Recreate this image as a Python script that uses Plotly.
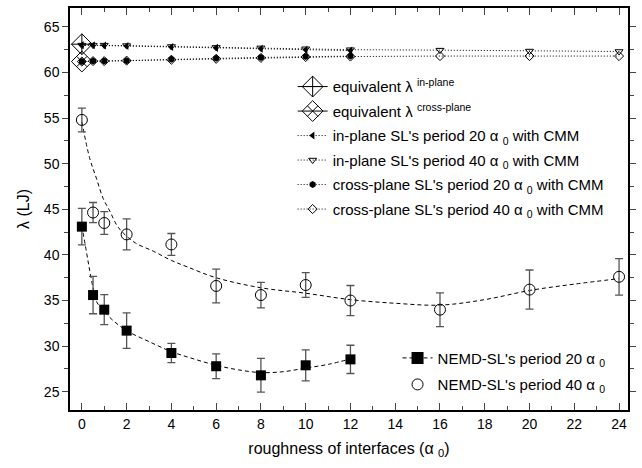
import plotly.graph_objects as go

# NEMD data
x20 = [0, 0.5, 1, 2, 4, 6, 8, 10, 12]
y20 = [43.1, 35.6, 34.0, 31.7, 29.25, 27.8, 26.8, 27.9, 28.55]
e20 = [2.0, 2.05, 1.65, 1.95, 1.05, 1.35, 1.85, 1.7, 1.55]

x40 = [0, 0.5, 1, 2, 4, 6, 8, 10, 12, 16, 20, 24]
y40 = [54.8, 44.65, 43.5, 42.25, 41.15, 36.6, 35.6, 36.7, 35.0, 34.0, 36.2, 37.6]
e40 = [1.3, 1.1, 1.25, 1.7, 1.2, 1.85, 1.4, 1.35, 1.65, 1.85, 2.15, 2.0]

# dashed fit curves
fit20_x = [0, 0.2, 0.35, 0.5, 0.65, 1, 1.4, 2, 3, 4, 5, 6, 7, 8, 9, 10, 11, 12]
fit20_y = [43.2, 40.4, 38.3, 36.4, 34.9, 33.8, 32.8, 31.7, 30.5, 29.4, 28.6, 27.9, 27.4, 27.1, 27.2, 27.6, 28.0, 28.6]
fit40_x = [0, 0.35, 0.65, 0.95, 1.25, 1.55, 1.85, 2.4, 3.2, 4, 4.7, 6, 8, 10, 12, 14, 16, 18, 20, 22, 24]
fit40_y = [54.6, 50.6, 48.4, 46.2, 44.8, 43.3, 42.4, 41.3, 40.4, 39.4, 38.7, 37.5, 36.4, 35.8, 35.1, 34.7, 34.5, 35.1, 36.1, 36.8, 37.4]

# CMM data
cmm20_x = [0, 0.5, 1, 2, 4, 6, 8, 10, 12]
cmm40_x = [0, 0.5, 1, 2, 4, 6, 8, 10, 12, 16, 20, 24]
in20 = [63.0, 62.98, 62.95, 62.9, 62.8, 62.7, 62.6, 62.5, 62.4]
in40 = [63.0, 63.0, 63.0, 62.95, 62.85, 62.75, 62.7, 62.6, 62.5, 62.45, 62.35, 62.3]
cr20 = [61.2, 61.25, 61.25, 61.3, 61.45, 61.55, 61.65, 61.75, 61.8]
cr40 = [61.2, 61.25, 61.25, 61.3, 61.4, 61.5, 61.6, 61.7, 61.75, 61.8, 61.8, 61.8]

eq_x = [0]
eq_in = [63.1]
eq_cross = [61.2]

FONT = "Liberation Sans, Arial, sans-serif"
DOT = "1px,2px"
DASH = "4px,3px"
fig = go.Figure()

fig.add_trace(go.Scatter(x=eq_x, y=eq_in, mode="lines+markers", name="equivalent λ <sup>in-plane</sup>",
    line=dict(color="black", width=1), legendgroup="a",
    marker=dict(symbol="diamond-cross-open", size=16, color="black", line=dict(width=1)), legend="legend"))
fig.add_trace(go.Scatter(x=eq_x, y=eq_cross, mode="lines+markers", name="equivalent λ <sup>cross-plane</sup>",
    line=dict(color="black", width=1), legendgroup="b",
    marker=dict(symbol="diamond-x-open", size=16, color="black", line=dict(width=1)), legend="legend"))
fig.add_trace(go.Scatter(x=cmm20_x, y=in20, mode="lines+markers", name="in-plane SL's period 20 α <sub>0</sub> with CMM",
    line=dict(color="black", width=1, dash=DOT), legendgroup="c",
    marker=dict(symbol="triangle-left", size=7, color="black"), legend="legend"))
fig.add_trace(go.Scatter(x=cmm40_x, y=in40, mode="lines+markers", name="in-plane SL's period 40 α <sub>0</sub> with CMM",
    line=dict(color="black", width=1, dash=DOT), legendgroup="d",
    marker=dict(symbol="triangle-down-open", size=7, color="black", line=dict(width=1)), legend="legend"))
fig.add_trace(go.Scatter(x=cmm20_x, y=cr20, mode="lines+markers", name="cross-plane SL's period 20 α <sub>0</sub> with CMM",
    line=dict(color="black", width=1, dash=DOT), legendgroup="e",
    marker=dict(symbol="hexagon", size=7, color="black"), legend="legend"))
fig.add_trace(go.Scatter(x=cmm40_x, y=cr40, mode="lines+markers", name="cross-plane SL's period 40 α <sub>0</sub> with CMM",
    line=dict(color="black", width=1, dash=DOT), legendgroup="f",
    marker=dict(symbol="diamond-open", size=7, color="black", line=dict(width=1)), legend="legend"))

# fit curves
fig.add_trace(go.Scatter(x=fit20_x, y=fit20_y, mode="lines", line=dict(color="black", width=1, dash=DASH, shape="spline"),
    showlegend=False, hoverinfo="skip"))
fig.add_trace(go.Scatter(x=fit40_x, y=fit40_y, mode="lines", line=dict(color="black", width=1, dash=DASH, shape="spline"),
    showlegend=False, hoverinfo="skip"))

# NEMD data (legend entry for 20 includes dashed line)
fig.add_trace(go.Scatter(x=x20, y=y20, mode="markers", name="NEMD-SL's period 20 α <sub>0</sub>",
    marker=dict(symbol="square", size=10, color="black"),
    error_y=dict(type="data", array=e20, color="#555555", thickness=1.3, width=4),
    showlegend=False))
fig.add_trace(go.Scatter(x=[None], y=[None], mode="lines+markers", name="NEMD-SL's period 20 α <sub>0</sub>",
    line=dict(color="black", width=1, dash=DASH), legendgroup="g",
    marker=dict(symbol="square", size=12, color="black"), legend="legend2"))
fig.add_trace(go.Scatter(x=x40, y=y40, mode="markers", name="NEMD-SL's period 40 α <sub>0</sub>",
    marker=dict(symbol="circle-open", size=11, color="black", line=dict(width=1)), legendgroup="h",
    error_y=dict(type="data", array=e40, color="#555555", thickness=1.3, width=4),
    legend="legend2"))

fig.update_layout(
    width=642, height=468,
    margin=dict(l=70, r=12, t=6, b=58),
    paper_bgcolor="white", plot_bgcolor="white",
    font=dict(family=FONT, size=14, color="black"),
    xaxis=dict(range=[-0.53, 24.4], dtick=2, tick0=0, ticks="inside", ticklen=7, tickwidth=1.3,
               showline=True, linewidth=1.5, linecolor="black", mirror="ticks", showgrid=False, zeroline=False,
               minor=dict(dtick=1, ticks="inside", ticklen=4, tickwidth=1.1),
               title=dict(text="roughness of interfaces (α <sub>0</sub>)", font=dict(size=16), standoff=12),
               tickfont=dict(size=14)),
    yaxis=dict(range=[23.0, 67.07], dtick=5, tick0=0, ticks="outside", ticklen=6, tickwidth=1.3,
               showline=True, linewidth=1.5, linecolor="black", mirror="ticks", showgrid=False, zeroline=False,
               minor=dict(dtick=2.5, ticks="outside", ticklen=4, tickwidth=1.1),
               title=dict(text="λ (LJ)", font=dict(size=16), standoff=10),
               tickfont=dict(size=14)),
    legend=dict(x=0.399, y=0.845, xanchor="left", yanchor="top", bgcolor="rgba(0,0,0,0)",
                font=dict(size=15), tracegroupgap=2, itemsizing="trace"),
    legend2=dict(x=0.587, y=0.17, xanchor="left", yanchor="top", bgcolor="rgba(0,0,0,0)",
                 font=dict(size=15), tracegroupgap=4, itemsizing="trace"),
    showlegend=True,
)

fig.write_html("out.html")
